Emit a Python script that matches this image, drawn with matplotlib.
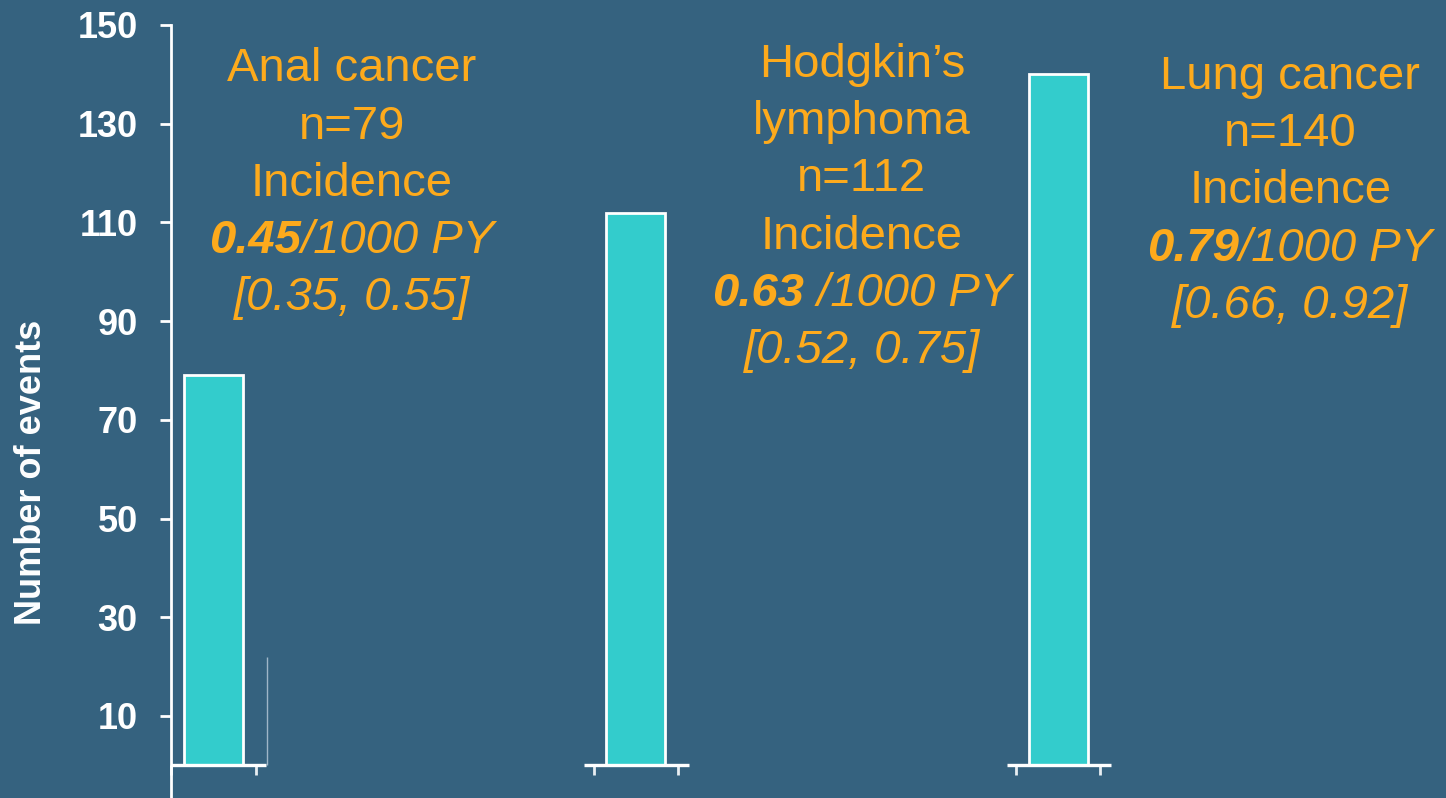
import matplotlib
matplotlib.use("Agg")
import matplotlib.pyplot as plt
from matplotlib.transforms import offset_copy

plt.rcParams["font.family"] = ["Liberation Sans", "DejaVu Sans"]

# ---- data -------------------------------------------------------------
cancers = ["Anal cancer", "Hodgkin\u2019s\nlymphoma", "Lung cancer"]
events = [79, 112, 140]
incidence = ["0.45", "0.63", "0.79"]
incidence_unit = ["/1000 PY", " /1000 PY", "/1000 PY"]
ci_low = ["0.35", "0.52", "0.66"]
ci_high = ["0.55", "0.75", "0.92"]
y_ticks = [10, 30, 50, 70, 90, 110, 130, 150]
side_mark = 22          # faint vertical rule beside the first bar

# ---- styling ----------------------------------------------------------
BG = "#35627F"
BAR = "#33CCCC"
ORANGE = "#FDAA1C"
WHITE = "white"

W, H, DPI = 1446, 798, 100
fig = plt.figure(figsize=(W / DPI, H / DPI), dpi=DPI, facecolor=BG)
ax = fig.add_axes([171 / W, 0, (W - 171) / W, (H - 25) / H])
ax.set_facecolor(BG)

positions = list(range(len(events)))
bar_w = 0.14
ax.bar(positions, events, width=bar_w, color=BAR, edgecolor=WHITE,
       linewidth=2.0, zorder=3)

ax.set_xlim(-0.1006, 2.918)
ax.set_ylim(-6.63, 150)

# axes, ticks
for s in ("top", "right"):
    ax.spines[s].set_visible(False)
ax.spines["left"].set_color(WHITE)
ax.spines["left"].set_linewidth(2.0)
ax.spines["bottom"].set_position(("data", 0))
ax.spines["bottom"].set_visible(False)

ax.set_yticks(y_ticks)
ax.set_yticklabels([str(t) for t in y_ticks])
ax.tick_params(axis="y", colors=WHITE, length=8, width=2.0, pad=16,
               labelsize=26)
for lbl in ax.get_yticklabels():
    lbl.set_fontweight("bold")

xt = []
for p in positions:
    xt += [p - 0.1, p + 0.1]
ax.set_xticks(xt)
ax.set_xticklabels([])
ax.tick_params(axis="x", colors="#E8EEF2", length=7, width=2.0,
               direction="out")

# short baseline segment under each bar
for p in positions:
    ax.hlines(0, p - 0.122, p + 0.125, color=WHITE, linewidth=2.4, zorder=4)
ax.vlines(positions[0] + 0.127, 0, side_mark, color="#9FB6C8",
          linewidth=1.0, zorder=2)

ax.set_ylabel("Number of events", color=WHITE, fontsize=26,
              fontweight="bold")
ax.yaxis.set_label_coords(-0.0955, 0.4217)

# ---- annotations ------------------------------------------------------
FS = 34
px_per_unit = 773 / 156.63
pitch = 57.2 / px_per_unit
text_dx = [0.328, 0.535, 0.549]
first_base = [81.5, 77.0, 89.0]          # baseline of first line, px from top

renderer = fig.canvas.get_renderer()

for i, p in enumerate(positions):
    x = p + text_dx[i]
    y0 = (765.3 - first_base[i]) / px_per_unit
    lines = cancers[i].split("\n") + [f"n={events[i]}", "Incidence"]
    k = 0
    for ln in lines:
        ax.text(x, y0 - k * pitch, ln, color=ORANGE, fontsize=FS,
                ha="center", va="baseline")
        k += 1
    # bold value followed by italic unit, centred as a single line
    yb = y0 - k * pitch
    t1 = ax.text(x, yb, incidence[i], color=ORANGE, fontsize=FS,
                 fontweight="bold", fontstyle="italic", ha="left",
                 va="baseline")
    t2 = ax.text(x, yb, incidence_unit[i], color=ORANGE, fontsize=FS,
                 fontstyle="italic", ha="left", va="baseline")
    w1 = t1.get_window_extent(renderer).width
    w2 = t2.get_window_extent(renderer).width
    total = w1 + w2
    t1.set_transform(offset_copy(ax.transData, fig=fig, x=-total / 2,
                                 units="dots"))
    t2.set_transform(offset_copy(ax.transData, fig=fig, x=-total / 2 + w1,
                                 units="dots"))
    k += 1
    ax.text(x, y0 - k * pitch, f"[{ci_low[i]}, {ci_high[i]}]", color=ORANGE,
            fontsize=FS, fontstyle="italic", ha="center", va="baseline")

fig.savefig("out.png", dpi=DPI, facecolor=BG)
